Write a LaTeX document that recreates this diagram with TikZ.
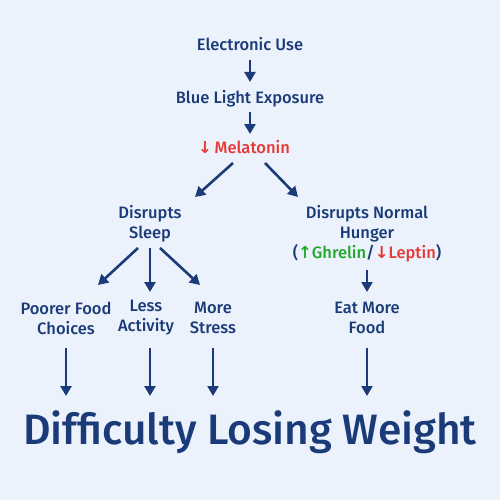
\documentclass[tikz,border=0pt]{standalone}
\usepackage{fontspec}
\setmainfont{Fira Sans Medium}
\newfontfamily\sym{DejaVu Sans Bold}
\usetikzlibrary{arrows.meta,calc}
\definecolor{navy}{HTML}{1B3B78}
\definecolor{bg}{HTML}{EBF2FC}
\definecolor{myred}{HTML}{E53935}
\definecolor{mygreen}{HTML}{22A82A}
\begin{document}
\begin{tikzpicture}[x=1pt,y=-1pt,
  lab/.style={font=\fontsize{16.5}{20}\selectfont, text=navy, inner sep=0pt, align=center},
  arr/.style={draw=navy, line width=2.6pt, -{Triangle[width=11pt,length=10pt]}}]
\fill[bg] (0,0) rectangle (500,500);
\useasboundingbox (0,0) rectangle (500,500);
\node[lab, anchor=base] (eu) at (250,51) {Electronic Use};
\node[lab, anchor=base] (blue) at (250,103) {Blue Light Exposure};
\node[lab, anchor=base, text=myred] (mel) at (244,153) {{\sym ↓}\,Melatonin};
\node[lab] (sleep) at (150,224) {Disrupts\\Sleep};
\node[lab] (hunger) at (367,234) {Disrupts Normal\\Hunger\\(\textcolor{mygreen}{{\sym ↑}Ghrelin}/\textcolor{myred}{{\sym ↓}Leptin})};
\node[lab] (poor) at (66,318) {Poorer Food\\Choices};
\node[lab] (less) at (146,318) {Less\\Activity};
\node[lab] (stress) at (213,318) {More\\Stress};
\node[lab] (eat) at (367,318) {Eat More\\Food};
\node[lab, anchor=base, font=\fontsize{42.5}{48}\selectfont] (title) at (250,444) {Difficulty Losing Weight};
\draw[arr] ($(eu.base)+(0,9)$) -- ($(blue.base)+(0,-21)$);
\draw[arr] ($(blue.base)+(0,9)$) -- ($(mel.base)+(6,-19)$);
\draw[arr] ($(mel.base)+(-11,10)$) -- ($(sleep.center)+(45,-27)$);
\draw[arr] ($(mel.base)+(21,10)$) -- ($(hunger.center)+(-69,-37)$);
\draw[arr] ($(sleep.center)+(-12,24)$) -- ($(poor.center)+(32,-33)$);
\draw[arr] ($(sleep.center)+(0,24)$) -- ($(less.center)+(4,-26)$);
\draw[arr] ($(sleep.center)+(10,24)$) -- ($(stress.center)+(-13,-33)$);
\draw[arr] ($(hunger.center)+(0,36)$) -- ($(eat.center)+(0,-26)$);
\draw[arr] ($(poor.center)+(0,30)$) -- ($(title.base)+(-184,-48)$);
\draw[arr] ($(less.center)+(4,30)$) -- ($(title.base)+(-100,-48)$);
\draw[arr] ($(stress.center)+(0,30)$) -- ($(title.base)+(-37,-48)$);
\draw[arr] ($(eat.center)+(0,30)$) -- ($(title.base)+(117,-48)$);
\end{tikzpicture}
\end{document}
